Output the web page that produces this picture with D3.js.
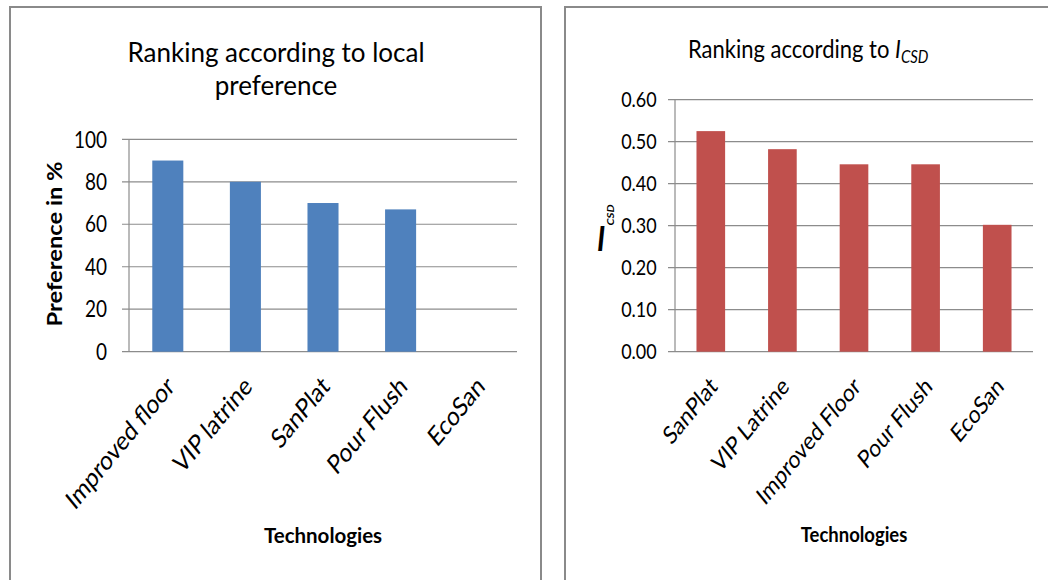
<!DOCTYPE html>
<html><head><meta charset="utf-8">
<script src="https://cdn.jsdelivr.net/npm/d3@7"></script>
<style>body{margin:0;background:#fff} svg{display:block}</style>
</head><body>
<svg id="chart" width="1048" height="580"></svg>
<script>
// ---- data ----
const prefCategories = ["Improved floor", "VIP latrine", "SanPlat", "Pour Flush", "EcoSan"];
const prefValues = [90, 80, 70, 67, 0];
const prefTicks = [0, 20, 40, 60, 80, 100];

const csdCategories = ["SanPlat", "VIP Latrine", "Improved Floor", "Pour Flush", "EcoSan"];
const csdValues = [0.525, 0.482, 0.446, 0.446, 0.302];
const csdTicks = [0, 0.1, 0.2, 0.3, 0.4, 0.5, 0.6];

// ---- setup ----
const svg = d3.select("#chart");
svg.append("rect").attr("width", 1048).attr("height", 580).attr("fill", "#fff");
const FONT = "Lato, 'Open Sans', sans-serif";
const GRID = "#8c8c8c";

function txt(g, x, y, str, o) {
  o = o || {};
  const t = g.append("text")
    .attr("transform", `translate(${x},${y}) scale(${o.sx || 1},${o.sy || 1}) rotate(${o.rot || 0})`)
    .attr("font-family", FONT)
    .attr("font-size", o.size || 18)
    .attr("font-weight", o.weight || "normal")
    .attr("font-style", o.style || "normal")
    .attr("text-anchor", o.anchor || "start")
    .attr("fill", "#000");
  if (o.dy) t.attr("dy", o.dy);
  if (str !== null) t.text(str);
  return t;
}

function panel(cfg) {
  const g = svg.append("g");
  g.append("rect").attr("x", cfg.px).attr("y", cfg.py).attr("width", cfg.pw).attr("height", 640)
    .attr("fill", "#fff").attr("stroke", "#8a8a8a").attr("stroke-width", 2);

  const x = d3.scaleBand().domain(cfg.categories).range([cfg.x0, cfg.x1]).paddingInner(0.6).paddingOuter(0.3);
  const y = d3.scaleLinear().domain(cfg.domain).range([cfg.y0, cfg.y1]);

  // gridlines, tick marks and tick labels
  g.selectAll("line.grid").data(cfg.ticks).enter().append("line").attr("class", "grid")
    .attr("x1", cfg.x0 - 7).attr("x2", cfg.x1)
    .attr("y1", d => y(d)).attr("y2", d => y(d))
    .attr("stroke", GRID).attr("stroke-width", 1.2);
  cfg.ticks.forEach(v => {
    txt(g, cfg.labelX, y(v), cfg.fmt(v), {size: cfg.tickSize, sy: 1.2, anchor: "end", dy: "0.36em"});
  });
  g.append("line").attr("x1", cfg.x0).attr("x2", cfg.x0).attr("y1", y(cfg.domain[1])).attr("y2", y(cfg.domain[0]))
    .attr("stroke", GRID).attr("stroke-width", 1.2);

  // bars
  g.selectAll("rect.bar").data(cfg.values).enter().append("rect").attr("class", "bar")
    .attr("x", (d, i) => x(cfg.categories[i]))
    .attr("width", x.bandwidth())
    .attr("y", d => y(d))
    .attr("height", d => y(cfg.domain[0]) - y(d))
    .attr("fill", cfg.color);

  // category labels
  cfg.categories.forEach(c => {
    txt(g, x(c) + x.bandwidth() / 2 + cfg.labDx, cfg.labY, c,
      {size: cfg.catSize, sy: 1.22, rot: -45, anchor: "end"});
  });

  // x title
  txt(g, (cfg.x0 + cfg.x1) / 2, cfg.xtY, "Technologies", {size: cfg.xtSize, weight: "bold", anchor: "middle", sy: cfg.xtSy});
  return {g, x, y};
}

// ---- left chart ----
const L = panel({
  px: 10, py: 7, pw: 531,
  categories: prefCategories, values: prefValues, ticks: prefTicks,
  domain: [0, 100], x0: 129, x1: 517, y0: 351.7, y1: 139.3,
  color: "#4F81BD", fmt: d3.format("d"), labelX: 107, tickSize: 19,
  labDx: 8, labY: 388, catSize: 22, xtY: 543.3, xtSize: 20.5, xtSy: 1.05
});
txt(L.g, 276, 61.7, "Ranking according to local", {size: 26, anchor: "middle"});
txt(L.g, 276, 95, "preference", {size: 26, anchor: "middle"});
txt(L.g, 62, 244, "Preference in %", {size: 21, weight: "bold", anchor: "middle", rot: -90, sy: 1.13});

// ---- right chart ----
const R = panel({
  px: 565, py: 7, pw: 600,
  categories: csdCategories, values: csdValues, ticks: csdTicks,
  domain: [0, 0.6], x0: 675, x1: 1033, y0: 351.7, y1: 99.6,
  color: "#C0504D", fmt: d3.format(".2f"), labelX: 656.7, tickSize: 18,
  labDx: 8, labY: 388, catSize: 20.5, xtY: 541.7, xtSize: 18.5, xtSy: 1.13
});
const rt = txt(R.g, 688, 58.3, null, {size: 22, sy: 1.16});
rt.append("tspan").text("Ranking according to ");
rt.append("tspan").attr("font-style", "italic").text("I");
rt.append("tspan").attr("font-style", "italic").attr("font-size", 15).attr("dy", 4).text("CSD");
// y-axis title I_CSD
txt(R.g, 597, 250.5, "I", {size: 29, weight: "bold", style: "italic", sy: 1.2});
txt(R.g, 613.5, 225.5, "CSD", {size: 9.5, weight: "bold", style: "italic", rot: -90, sy: 1.2});
</script>
</body></html>
